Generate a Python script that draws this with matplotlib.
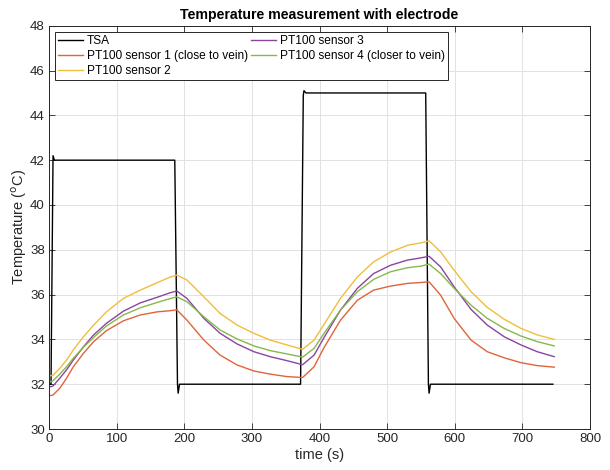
import matplotlib
matplotlib.use("Agg")
import matplotlib.pyplot as plt

plt.rcParams['font.family'] = ['Liberation Sans', 'DejaVu Sans']

# TSA setpoint trace
tsa_t = [0, 3, 6, 8, 186, 190, 191, 193, 372, 376, 377, 380, 557, 561, 562, 564, 745]
tsa_v = [32.0, 32.0, 42.2, 42.0, 42.0, 32.0, 31.6, 32.0, 32.0, 44.9, 45.1, 45.0, 45.0, 32.0, 31.6, 32.0, 32.0]

# PT100 sensor traces (common time base)
t = [0, 6, 16, 26, 36, 51, 66, 85, 110, 135, 160, 179, 189, 204, 229, 253, 278, 303, 327,
     352, 375, 392, 406, 431, 456, 480, 505, 530, 550, 562, 579, 599, 624, 648, 673, 698, 722, 747]
sensor1 = [31.48, 31.52, 31.82, 32.27, 32.78, 33.38, 33.90, 34.39, 34.83, 35.09, 35.23, 35.28, 35.32,
           34.86, 33.97, 33.30, 32.86, 32.59, 32.45, 32.34, 32.30, 32.78, 33.60, 34.86, 35.75,
           36.20, 36.38, 36.50, 36.54, 36.57, 35.98, 34.94, 33.97, 33.45, 33.18, 32.96, 32.83, 32.76]
sensor2 = [32.37, 32.40, 32.71, 33.08, 33.53, 34.12, 34.64, 35.23, 35.83, 36.20, 36.53, 36.78, 36.87,
           36.65, 35.90, 35.16, 34.64, 34.27, 33.97, 33.75, 33.56, 33.97, 34.64, 35.83, 36.79,
           37.46, 37.90, 38.20, 38.31, 38.40, 37.91, 37.09, 36.13, 35.43, 34.90, 34.49, 34.20, 34.00]
sensor3 = [31.87, 31.92, 32.27, 32.64, 33.08, 33.67, 34.20, 34.72, 35.26, 35.63, 35.88, 36.08, 36.16,
           35.83, 34.94, 34.27, 33.80, 33.45, 33.23, 33.05, 32.87, 33.30, 34.05, 35.31, 36.28,
           36.94, 37.31, 37.54, 37.64, 37.71, 37.24, 36.35, 35.34, 34.64, 34.12, 33.75, 33.45, 33.23]
sensor4 = [32.09, 32.16, 32.45, 32.78, 33.16, 33.65, 34.09, 34.60, 35.09, 35.41, 35.65, 35.82, 35.90,
           35.68, 35.01, 34.42, 34.02, 33.71, 33.50, 33.35, 33.21, 33.60, 34.24, 35.31, 36.13,
           36.68, 37.02, 37.20, 37.27, 37.36, 36.94, 36.28, 35.53, 34.94, 34.49, 34.15, 33.90, 33.71]

labels = ['TSA', 'PT100 sensor 1 (close to vein)', 'PT100 sensor 2',
          'PT100 sensor 3', 'PT100 sensor 4 (closer to vein)']
colors = ['#000000', '#E0643A', '#F0BE3C', '#8A45A0', '#86B84A']

xticks = [0, 100, 200, 300, 400, 500, 600, 700, 800]
yticks = [30, 32, 34, 36, 38, 40, 42, 44, 46, 48]

fig = plt.figure(figsize=(6.1, 4.7), dpi=100)
ax = fig.add_axes([0.0803, 0.0872, 0.887, 0.858])

ax.plot(tsa_t, tsa_v, color=colors[0], lw=1.0, label=labels[0])
ax.plot(t, sensor1, color=colors[1], lw=1.0, label=labels[1])
ax.plot(t, sensor2, color=colors[2], lw=1.0, label=labels[2])
ax.plot(t, sensor3, color=colors[3], lw=1.0, label=labels[3])
ax.plot(t, sensor4, color=colors[4], lw=1.0, label=labels[4])

ax.set_xlim(0, 800)
ax.set_ylim(30, 48)
ax.set_xticks(xticks)
ax.set_yticks(yticks)
ax.grid(True, color='#E2E2E2', lw=0.7)
ax.set_axisbelow(True)
ax.tick_params(direction='in', top=True, right=True, labelsize=9.5,
               colors='#262626', length=4, width=0.6, pad=3)
for s in ax.spines.values():
    s.set_color('#262626')
    s.set_linewidth(0.7)

ax.set_xlabel('time (s)', fontsize=10.5, color='#262626', labelpad=2)
ax.set_ylabel(r'Temperature ($^{\rm o}$C)', fontsize=10.5, color='#262626', labelpad=1)
ax.set_title('Temperature measurement with electrode', fontsize=10.2, fontweight='bold',
             pad=5)

leg = ax.legend(loc='upper left', ncol=2, fontsize=8.6, frameon=True, fancybox=False,
                edgecolor='#262626', framealpha=1, handlelength=2.1, handletextpad=0.3,
                columnspacing=0.3, labelspacing=0.25, borderpad=0.25,
                bbox_to_anchor=(0.0, 1.0), borderaxespad=0.5)
leg.get_frame().set_linewidth(0.7)

fig.savefig('out.png', dpi=100)
